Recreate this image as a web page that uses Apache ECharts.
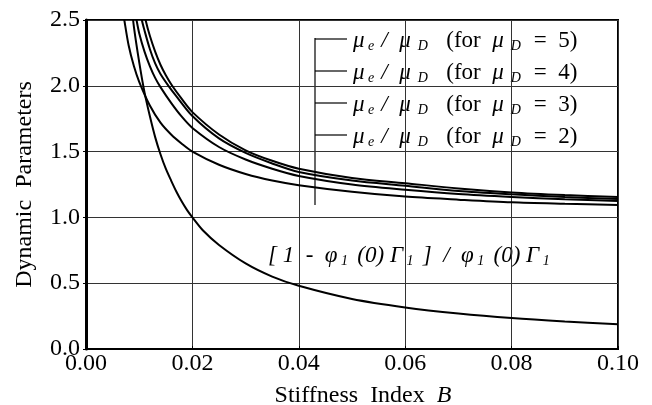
<!DOCTYPE html>
<html lang="en">
<head>
    <meta http-equiv="Content-Type" content="text/html; charset=UTF-8">
    <title>Dynamic Parameters vs Stiffness Index</title>
    <script type="text/javascript" src="https://cdn.jsdelivr.net/npm/echarts@6/dist/echarts.min.js"></script>
</head>
<body style="margin:0;width:652px;height:405px;background:#fff">
<div id="main" style="width:652px;height:405px"></div>
<script type="text/javascript">
    // stiffness index B (x) and read-off values for each curve
    var bMu5 = [0.0109, 0.0112, 0.012, 0.013, 0.014, 0.015, 0.0162, 0.018, 0.020, 0.025, 0.030, 0.035, 0.040, 0.050, 0.060, 0.070, 0.080, 0.090, 0.100];
    var vMu5 = [2.57, 2.50, 2.38, 2.26, 2.16, 2.08, 2.00, 1.90, 1.80, 1.63, 1.51, 1.43, 1.37, 1.30, 1.26, 1.22, 1.19, 1.17, 1.155];

    var bMu4 = [0.0102, 0.0105, 0.011, 0.012, 0.013, 0.014, 0.0155, 0.017, 0.020, 0.025, 0.030, 0.035, 0.040, 0.050, 0.060, 0.070, 0.080, 0.090, 0.100];
    var vMu4 = [2.58, 2.50, 2.42, 2.28, 2.17, 2.09, 2.00, 1.92, 1.77, 1.60, 1.49, 1.41, 1.345, 1.28, 1.24, 1.20, 1.175, 1.155, 1.14];

    var bMu3 = [0.0093, 0.0095, 0.010, 0.011, 0.012, 0.013, 0.014, 0.016, 0.018, 0.020, 0.025, 0.030, 0.035, 0.040, 0.050, 0.060, 0.070, 0.080, 0.090, 0.100];
    var vMu3 = [2.55, 2.50, 2.40, 2.26, 2.15, 2.06, 1.99, 1.87, 1.765, 1.68, 1.535, 1.44, 1.37, 1.315, 1.25, 1.21, 1.177, 1.155, 1.138, 1.125];

    var bMu2 = [0.0069, 0.0072, 0.008, 0.009, 0.010, 0.012, 0.014, 0.016, 0.018, 0.020, 0.025, 0.030, 0.035, 0.040, 0.050, 0.060, 0.070, 0.080, 0.090, 0.100];
    var vMu2 = [2.58, 2.50, 2.31, 2.15, 2.03, 1.85, 1.72, 1.63, 1.56, 1.50, 1.40, 1.33, 1.28, 1.245, 1.195, 1.158, 1.135, 1.115, 1.104, 1.095];

    var bPhi = [0.0085, 0.009, 0.010, 0.011, 0.012, 0.013, 0.014, 0.015, 0.016, 0.017, 0.018, 0.019, 0.020, 0.022, 0.025, 0.030, 0.035, 0.040, 0.050, 0.060, 0.070, 0.080, 0.090, 0.100];
    var vPhi = [2.64, 2.45, 2.18, 1.95, 1.77, 1.61, 1.48, 1.37, 1.28, 1.195, 1.12, 1.055, 1.00, 0.90, 0.79, 0.65, 0.55, 0.48, 0.38, 0.316, 0.27, 0.235, 0.209, 0.188];

    var xTicks = [0, 0.02, 0.04, 0.06, 0.08, 0.10];
    var yTicks = [0, 0.5, 1.0, 1.5, 2.0, 2.5];
    var muLabels = ['5', '4', '3', '2'];

    function pairs(xs, ys) {
        return xs.map(function (x, i) { return [x, ys[i]]; });
    }

    var serif = '"Liberation Serif", "DejaVu Serif", serif';
    var myChart = echarts.init(document.getElementById('main'));

    function curve(name, xs, ys) {
        return {
            name: name,
            type: 'line',
            smooth: 0.3,
            showSymbol: false,
            clip: true,
            silent: true,
            lineStyle: {color: '#000', width: 2},
            data: pairs(xs, ys)
        };
    }

    var richMu = {
        m: {fontFamily: serif, fontStyle: 'italic', fontSize: 23, color: '#000'},
        s: {fontFamily: serif, fontStyle: 'italic', fontSize: 14, color: '#000', padding: [11, 0, 0, 0]},
        t: {fontFamily: serif, fontSize: 23, color: '#000'}
    };

    // legend text blocks with the bracket
    var legendTop = [41, 73, 105, 137];
    var graphics = [];
    graphics.push({
        type: 'line', silent: true,
        shape: {x1: 315, y1: 38, x2: 315, y2: 205},
        style: {stroke: '#000', lineWidth: 1.2}
    });
    muLabels.forEach(function (k, i) {
        graphics.push({
            type: 'line', silent: true,
            shape: {x1: 315, y1: legendTop[i] - 2, x2: 347, y2: legendTop[i] - 2},
            style: {stroke: '#000', lineWidth: 1.2}
        });
        graphics.push({
            type: 'text', silent: true, x: 353, y: legendTop[i],
            style: {
                text: '{m|μ}{s| e  }{m|/  μ}{s|  D  }{t|  (for  }{m|μ}{s|  D  }{t| =  ' + k + ')}',
                rich: richMu,
                verticalAlign: 'middle',
                align: 'left'
            }
        });
    });
    graphics.push({
        type: 'text', silent: true, x: 268, y: 256,
        style: {
            text: '{m|[ 1  -  φ}{s| 1 }{m| (0) Γ}{s| 1 }{m| ]  /  φ}{s| 1 }{m| (0) Γ}{s| 1}',
            rich: richMu,
            verticalAlign: 'middle',
            align: 'left'
        }
    });

    myChart.setOption({
        backgroundColor: '#fff',
        animation: false,
        grid: {
            left: 86, right: 34, top: 20, bottom: 56,
            outerBoundsMode: 'none',
            containLabel: false,
            show: true, borderColor: '#000', borderWidth: 2, backgroundColor: 'transparent'
        },
        xAxis: {
            type: 'value',
            min: xTicks[0],
            max: xTicks[xTicks.length - 1],
            interval: 0.02,
            name: '{n|Stiffness  Index  }{b|B}',
            nameLocation: 'middle',
            nameGap: 35,
            nameTextStyle: {
                padding: [0, 0, 0, 22],
                rich: {
                    n: {fontFamily: serif, fontSize: 24, color: '#000'},
                    b: {fontFamily: serif, fontSize: 24, fontStyle: 'italic', color: '#000'}
                }
            },
            axisLine: {lineStyle: {color: '#000', width: 2}},
            axisTick: {show: true, inside: true, length: 3, lineStyle: {color: '#000'}},
            axisLabel: {
                fontFamily: serif, fontSize: 24, color: '#000', margin: 3,
                formatter: function (v) { return v.toFixed(2); }
            },
            splitLine: {show: true, lineStyle: {color: '#333', width: 1}}
        },
        yAxis: {
            type: 'value',
            min: yTicks[0],
            max: yTicks[yTicks.length - 1],
            interval: 0.5,
            name: 'Dynamic  Parameters',
            nameLocation: 'middle',
            nameGap: 49,
            nameTextStyle: {fontFamily: serif, fontSize: 24, color: '#000'},
            axisLine: {lineStyle: {color: '#000', width: 3}},
            axisTick: {show: true, length: 3, lineStyle: {color: '#000'}},
            axisLabel: {
                fontFamily: serif, fontSize: 24, color: '#000', margin: 6,
                formatter: function (v) { return v.toFixed(1); }
            },
            splitLine: {show: true, lineStyle: {color: '#333', width: 1}}
        },
        graphic: graphics,
        series: [
            curve('mu5', bMu5, vMu5),
            curve('mu4', bMu4, vMu4),
            curve('mu3', bMu3, vMu3),
            curve('mu2', bMu2, vMu2),
            curve('phi', bPhi, vPhi)
        ]
    });
</script>
</body>
</html>
